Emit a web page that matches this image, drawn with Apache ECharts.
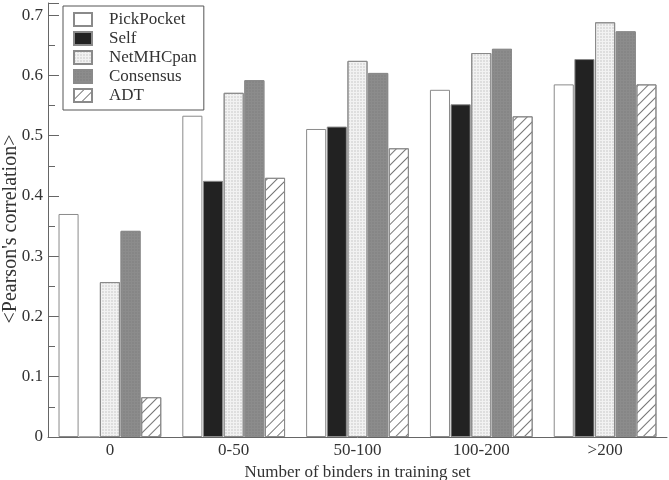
<!DOCTYPE html>
<html><head><meta charset="utf-8">
<script src="https://cdn.jsdelivr.net/npm/echarts@6/dist/echarts.min.js"></script>
<style>html,body{margin:0;padding:0;background:#fff}#c{width:669px;height:480px}</style>
</head><body><div id="c"></div>
<script>
var categories = ['0', '0-50', '50-100', '100-200', '>200'];
var pickPocket = [0.370, 0.533, 0.511, 0.576, 0.585];
var self = [0, 0.425, 0.515, 0.552, 0.627];
var netMHCpan = [0.257, 0.571, 0.624, 0.637, 0.688];
var consensus = [0.342, 0.592, 0.604, 0.644, 0.673];
var adt = [0.066, 0.430, 0.479, 0.532, 0.585];
var seriesNames = ['PickPocket', 'Self', 'NetMHCpan', 'Consensus', 'ADT'];
var xTitle = 'Number of binders in training set';
var yTitle = "<Pearson's correlation>";

var font = '"Liberation Serif", "DejaVu Serif", serif';
var chart = echarts.init(document.getElementById('c'));
var border = {borderColor: '#8a8a8a', borderWidth: 1};
function mk(name, data, style) {
  return {name: name, type: 'bar', data: data, barGap: '3%', barCategoryGap: '17%',
    itemStyle: Object.assign({}, border, style), emphasis: {disabled: true}};
}
chart.setOption({
  animation: false,
  textStyle: {fontFamily: font},
  grid: {left: 48, right: 2, top: 3, bottom: 43, containLabel: false, outerBoundsMode: 'none'},
  legend: {
    orient: 'vertical', left: 63, top: 6, icon: 'rect', itemWidth: 18, itemHeight: 13, itemGap: 2,
    borderColor: '#555', borderWidth: 1, padding: [5, 7, 6, 10],
    textStyle: {fontFamily: font, fontSize: 17, color: '#333', padding: [0, 0, 0, 12], lineHeight: 17},
    data: seriesNames
  },
  graphic: [{
    type: 'text', x: 11, y: 229, rotation: Math.PI / 2,
    style: {text: yTitle, font: '20px ' + font, fill: '#333', align: 'center', verticalAlign: 'middle'}
  }],
  xAxis: {
    type: 'category', data: categories,
    name: xTitle, nameLocation: 'middle', nameGap: 24,
    nameTextStyle: {fontFamily: font, fontSize: 17, color: '#333'},
    axisLine: {lineStyle: {color: '#666'}},
    axisTick: {inside: true, alignWithLabel: true, length: 11, lineStyle: {color: '#666'}},
    axisLabel: {fontFamily: font, fontSize: 17, color: '#333', margin: 5}
  },
  yAxis: {
    type: 'value', min: 0, max: 0.72, interval: 0.1,
    splitLine: {show: false},
    axisLine: {show: true, lineStyle: {color: '#666'}},
    axisTick: {show: true, inside: true, length: 11, lineStyle: {color: '#666'}},
    minorTick: {show: true, splitNumber: 2, length: 7, lineStyle: {color: '#666'}},
    axisLabel: {fontFamily: font, fontSize: 17, color: '#333', showMaxLabel: false, margin: 5}
  },
  series: [
    mk('PickPocket', pickPocket, {color: '#ffffff'}),
    mk('Self', self, {color: '#222222'}),
    mk('NetMHCpan', netMHCpan, {color: '#f2f2f2', decal: {symbol: 'rect', symbolSize: 0.6, dashArrayX: [2, 1], dashArrayY: [2, 1], color: '#b0b0b0', rotation: 0}}),
    mk('Consensus', consensus, {color: '#8c8c8c', decal: {symbol: 'rect', symbolSize: 0.6, dashArrayX: [2, 1], dashArrayY: [2, 1], color: '#7a7a7a', rotation: 0}}),
    mk('ADT', adt, {color: '#ffffff', decal: {symbol: 'rect', dashArrayX: [1, 0], dashArrayY: [1, 6], rotation: -Math.PI / 4, color: '#777777'}})
  ]
});
</script></body></html>
